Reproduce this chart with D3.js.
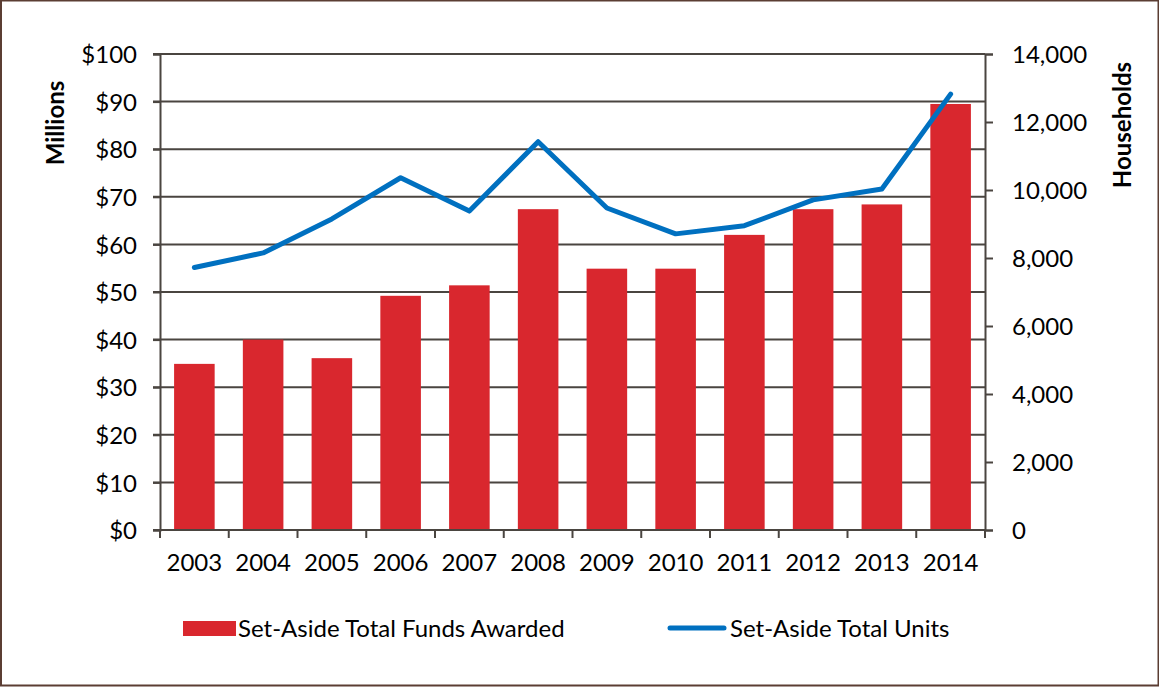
<!DOCTYPE html>
<html>
<head>
<meta charset="utf-8">
<script src="https://cdn.jsdelivr.net/npm/d3@7"></script>
<style>
  body { margin: 0; background: #fff; }
  text { font-family: Lato, "Liberation Sans", sans-serif; fill: #000; }
</style>
</head>
<body>
<div id="chart"></div>
<script>
// chart size
const width = 1159;
const height = 687;

// data
const years = ["2003", "2004", "2005", "2006", "2007", "2008", "2009", "2010", "2011", "2012", "2013", "2014"];
const funds = [34.9, 40.0, 36.1, 49.2, 51.4, 67.4, 54.9, 54.9, 62.0, 67.4, 68.4, 89.5];
const units = [7720, 8150, 9150, 10360, 9380, 11420, 9470, 8710, 8950, 9710, 10030, 12820];
const leftTicks = [0, 10, 20, 30, 40, 50, 60, 70, 80, 90, 100];
const rightTicks = [0, 2000, 4000, 6000, 8000, 10000, 12000, 14000];

const plot = { left: 160, right: 985, top: 54, bottom: 530 };
const axisColor = "#4a4540";
const fontSize = "24px";

const svg = d3.select("#chart").append("svg")
    .attr("width", width)
    .attr("height", height);

// outer frame
svg.append("rect")
    .attr("x", 1).attr("y", 0.5)
    .attr("width", width - 1.5).attr("height", height - 2)
    .attr("fill", "none")
    .attr("stroke", "#5b3d33")
    .attr("stroke-width", 2);

const x = d3.scaleBand()
    .domain(years)
    .range([plot.left, plot.right])
    .paddingInner(0.41)
    .paddingOuter(0.205);

const xLine = d => x(d) + x.bandwidth() / 2;

const yLeft = d3.scaleLinear().domain([0, 100]).range([plot.bottom, plot.top]);
const yRight = d3.scaleLinear().domain([0, 14000]).range([plot.bottom, plot.top]);

// gridlines
svg.append("g")
    .selectAll("line")
    .data(leftTicks)
    .enter()
    .append("line")
    .attr("x1", plot.left - 7)
    .attr("x2", plot.right)
    .attr("y1", d => yLeft(d))
    .attr("y2", d => yLeft(d))
    .attr("stroke", axisColor)
    .attr("stroke-width", 2);

// bars
svg.append("g")
    .selectAll("rect")
    .data(years)
    .enter()
    .append("rect")
    .attr("x", d => x(d))
    .attr("y", (d, i) => yLeft(funds[i]))
    .attr("width", x.bandwidth())
    .attr("height", (d, i) => yLeft(0) - yLeft(funds[i]))
    .attr("fill", "#d9272e");

// left axis
const leftAxis = svg.append("g")
    .attr("transform", `translate(${plot.left},0)`)
    .call(d3.axisLeft(yLeft).tickValues(leftTicks).tickSize(7).tickPadding(16).tickFormat(d => "$" + d));

// right axis
const rightAxis = svg.append("g")
    .attr("transform", `translate(${plot.right},0)`)
    .call(d3.axisRight(yRight).tickValues(rightTicks).tickSize(8).tickPadding(19).tickFormat(d3.format(",")));

// bottom axis
const bottomAxis = svg.append("g")
    .attr("transform", `translate(0,${plot.bottom})`)
    .call(d3.axisBottom(x).tickSize(0).tickPadding(24));

// category boundary ticks
const step = x.step();
svg.append("g")
    .selectAll("line")
    .data(d3.range(years.length + 1))
    .enter()
    .append("line")
    .attr("x1", i => plot.left + i * step)
    .attr("x2", i => plot.left + i * step)
    .attr("y1", plot.bottom)
    .attr("y2", plot.bottom + 8)
    .attr("stroke", axisColor)
    .attr("stroke-width", 2);

[leftAxis, rightAxis, bottomAxis].forEach(a => {
    a.selectAll(".domain").attr("stroke", axisColor).attr("stroke-width", 2);
    a.selectAll(".tick line").attr("stroke", axisColor).attr("stroke-width", 2);
    a.selectAll("text").style("font-size", fontSize).attr("fill", "#000");
});
leftAxis.selectAll("text").attr("dy", "0.36em");
rightAxis.selectAll("text").attr("dy", "0.36em");
bottomAxis.select(".domain").remove();
svg.append("line")
    .attr("x1", plot.left - 7).attr("x2", plot.right)
    .attr("y1", plot.bottom).attr("y2", plot.bottom)
    .attr("stroke", axisColor).attr("stroke-width", 2);

// units line
const line = d3.line()
    .x(d => xLine(d[0]))
    .y(d => yRight(d[1]));

svg.append("path")
    .datum(years.map((y, i) => [y, units[i]]))
    .attr("d", line)
    .attr("fill", "none")
    .attr("stroke", "#0070c0")
    .attr("stroke-width", 5)
    .attr("stroke-linejoin", "round")
    .attr("stroke-linecap", "round");

// axis titles
svg.append("text")
    .attr("transform", "translate(64,123) rotate(-90)")
    .attr("text-anchor", "middle")
    .style("font-size", fontSize)
    .style("font-weight", "bold")
    .text("Millions");

svg.append("text")
    .attr("transform", "translate(1131,125) rotate(-90)")
    .attr("text-anchor", "middle")
    .style("font-size", fontSize)
    .style("font-weight", "bold")
    .text("Households");

// legend
const legend = svg.append("g");
legend.append("rect")
    .attr("x", 183).attr("y", 621)
    .attr("width", 53).attr("height", 15)
    .attr("fill", "#d9272e");
legend.append("text")
    .attr("x", 238).attr("y", 637)
    .style("font-size", fontSize)
    .text("Set-Aside Total Funds Awarded");
legend.append("line")
    .attr("x1", 670).attr("x2", 724)
    .attr("y1", 628).attr("y2", 628)
    .attr("stroke", "#0070c0")
    .attr("stroke-width", 5)
    .attr("stroke-linecap", "round");
legend.append("text")
    .attr("x", 730).attr("y", 637)
    .style("font-size", fontSize)
    .text("Set-Aside Total Units");
</script>
</body>
</html>
